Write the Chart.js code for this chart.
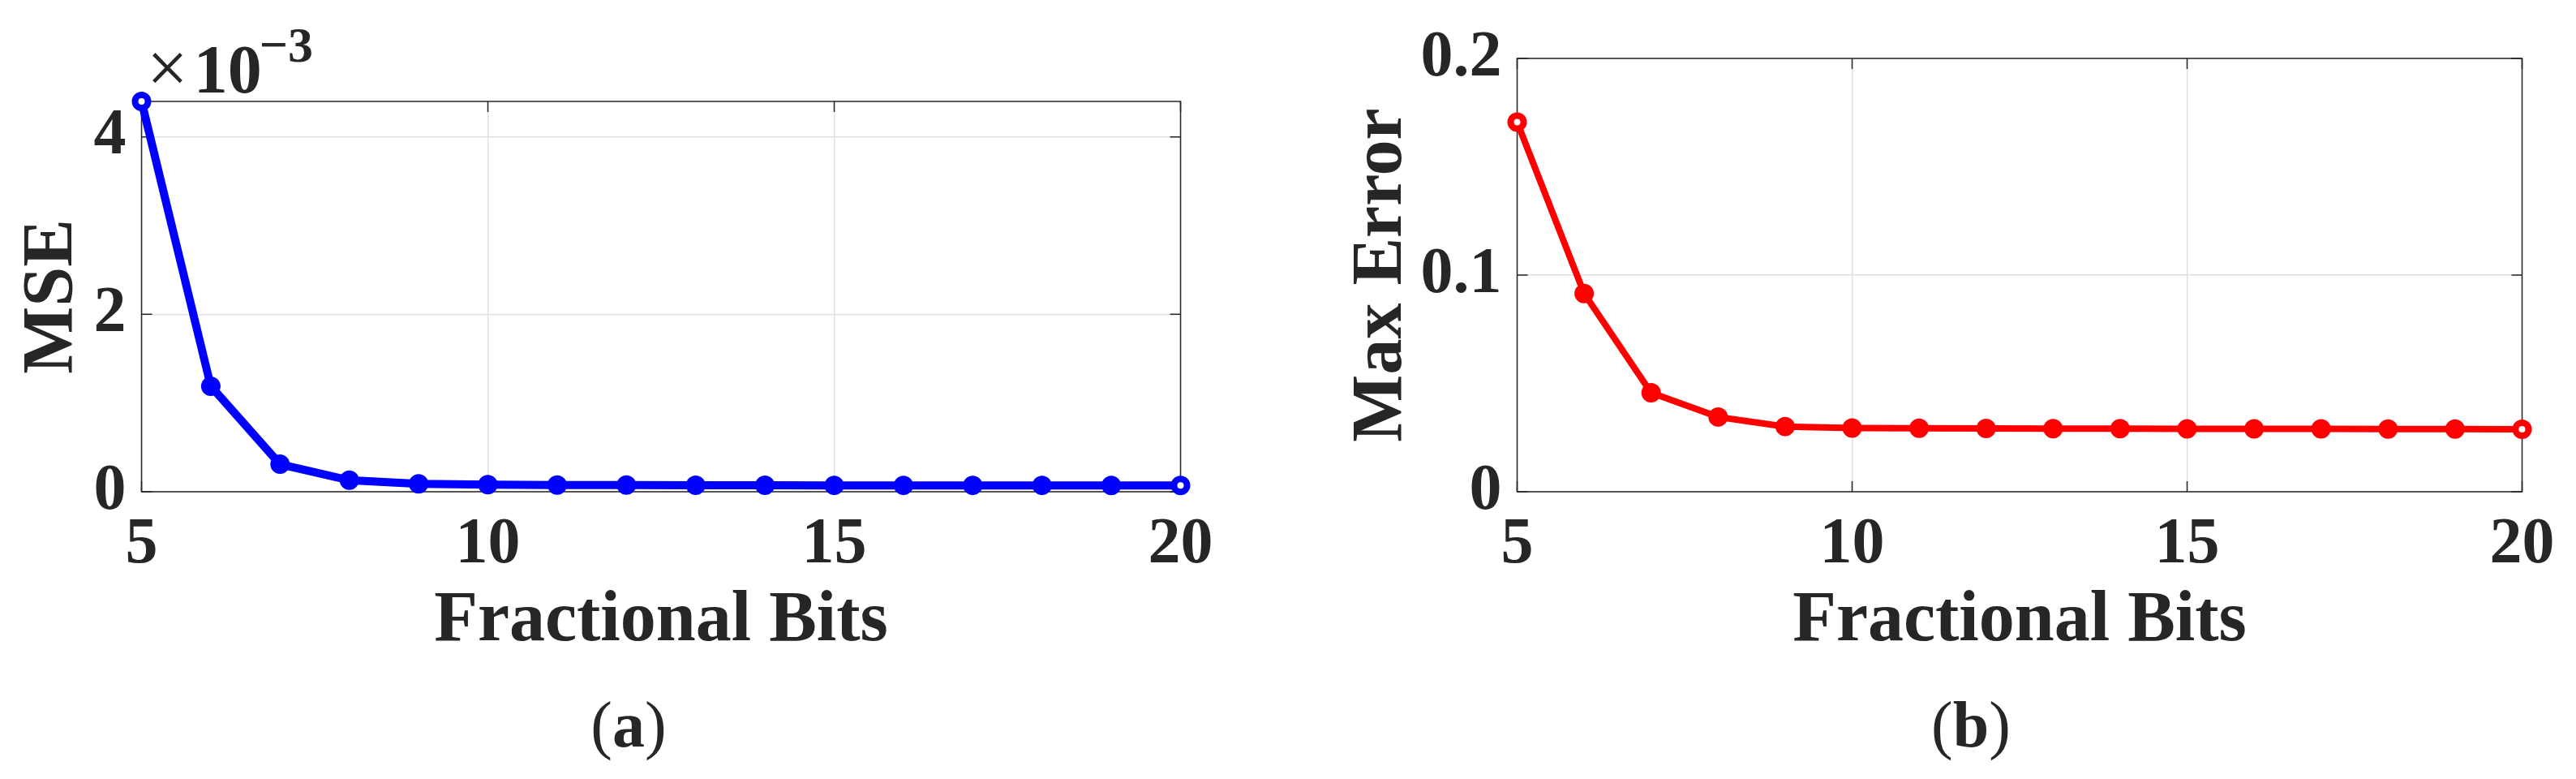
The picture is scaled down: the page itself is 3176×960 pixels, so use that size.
<!DOCTYPE html>
<html>
<head>
<meta charset="utf-8">
<script src="https://cdn.jsdelivr.net/npm/chart.js@4"></script>
<style>
  body { margin: 0; background: #fff; }
  #page { position: relative; width: 3176px; height: 960px; overflow: hidden; background: #fff; }
  .panel { position: absolute; top: 0; width: 1588px; height: 960px; }
  .txt { position: absolute; font-family: 'Liberation Serif', 'Times New Roman', serif; color: #262626; line-height: 1; white-space: nowrap; }
  .cap { font-size: 80px; transform: translateX(-50%); top: 853px; }
  .cap b { font-weight: bold; }
</style>
</head>
<body>
<div id="page">
  <div class="panel" style="left:0"><canvas id="mseChart" width="1588" height="960"></canvas></div>
  <div class="panel" style="left:1588px"><canvas id="errChart" width="1588" height="960"></canvas></div>

  <div class="txt" style="left:181px; top:39px; font-size:84px; font-weight:bold;"><span style="font-weight:normal; font-size:90px;">×</span><span style="margin-left:7px">10</span><span style="position:relative; top:-38px; font-size:62px; margin-left:-3px;">−3</span></div>

  <div class="txt cap" style="left:775px">(<b>a</b>)</div>
  <div class="txt cap" style="left:2430px">(<b>b</b>)</div>
</div>

<script>
const bits = [5, 6, 7, 8, 9, 10, 11, 12, 13, 14, 15, 16, 17, 18, 19, 20];
const mseVals = [4.40e-3, 1.19e-3, 0.31e-3, 0.13e-3, 0.09e-3, 0.08e-3, 0.075e-3, 0.075e-3,
                 0.074e-3, 0.073e-3, 0.072e-3, 0.072e-3, 0.072e-3, 0.072e-3, 0.071e-3, 0.070e-3];
const maxErrVals = [0.1706, 0.0915, 0.0457, 0.0345, 0.0301, 0.0294, 0.0293, 0.0292,
                    0.0291, 0.0291, 0.0290, 0.0290, 0.0290, 0.0289, 0.0289, 0.0288];
const xTicks = [5, 10, 15, 20];
const mseTicks = [0, 0.002, 0.004];
const maxErrTicks = [0, 0.1, 0.2];

const FONT = "'Liberation Serif', 'Times New Roman', serif";
const INK = '#262626';
const TICK = 13;

// matlab style box with inward ticks on all four sides
const boxPlugin = {
  id: 'box',
  beforeDatasetsDraw(chart) {
    const {ctx, chartArea: a, scales} = chart;
    const x = scales.x, y = scales.y;
    ctx.save();
    ctx.strokeStyle = INK;
    ctx.lineWidth = 1.5;
    ctx.strokeRect(a.left, a.top, a.right - a.left, a.bottom - a.top);
    ctx.beginPath();
    x.ticks.forEach(t => {
      let px = x.getPixelForValue(t.value);
      ctx.moveTo(px, a.bottom); ctx.lineTo(px, a.bottom - TICK);
      ctx.moveTo(px, a.top); ctx.lineTo(px, a.top + TICK);
    });
    y.ticks.forEach(t => {
      let py = y.getPixelForValue(t.value);
      ctx.moveTo(a.left, py); ctx.lineTo(a.left + TICK, py);
      ctx.moveTo(a.right, py); ctx.lineTo(a.right - TICK, py);
    });
    ctx.stroke();
    ctx.restore();
  }
};

function makeChart(id, values, color, lineW, yMax, yTicks, yLabel, yFmt, area) {
  let n = values.length;
  let fills = values.map((v, i) => (i === 0 || i === n - 1) ? '#ffffff' : color);
  const data = {
    datasets: [{
      data: bits.map((b, i) => ({x: b, y: values[i]})),
      borderColor: color,
      borderWidth: lineW,
      pointRadius: 8,
      pointBorderWidth: 8,
      pointBackgroundColor: fills,
      pointBorderColor: color,
      tension: 0,
      clip: false
    }]
  };

  const config = {
    type: 'line',
    data: data,
    options: {
      responsive: false,
      animation: false,
      layout: { padding: { left: 0, top: area.top, right: area.right, bottom: 0 } },
      plugins: { legend: { display: false }, tooltip: { enabled: false } },
      scales: {
        x: {
          type: 'linear',
          min: 5,
          max: 20,
          afterBuildTicks: s => { s.ticks = xTicks.map(v => ({value: v})); },
          afterFit: s => { s.height = 354; },
          grid: { color: '#e0e0e0', lineWidth: 1.5, drawTicks: false },
          border: { display: false },
          ticks: {
            color: INK,
            padding: 26,
            maxRotation: 0,
            font: { family: FONT, size: 80, weight: 'bold', lineHeight: 1 }
          },
          title: {
            display: true,
            text: 'Fractional Bits',
            color: INK,
            padding: { bottom: 150 },
            font: { family: FONT, size: 88, weight: 'bold', lineHeight: 1 }
          }
        },
        y: {
          min: 0,
          max: yMax,
          afterBuildTicks: s => { s.ticks = yTicks.map(v => ({value: v})); },
          afterFit: s => { s.width = area.left; },
          grid: { color: '#e0e0e0', lineWidth: 1.5, drawTicks: false },
          border: { display: false },
          ticks: {
            color: INK,
            padding: 19,
            callback: yFmt,
            font: { family: FONT, size: 80, weight: 'bold', lineHeight: 1 }
          },
          title: {
            display: true,
            text: yLabel,
            color: INK,
            padding: { top: area.titleX - 44 },
            font: { family: FONT, size: 88, weight: 'bold', lineHeight: 1 }
          }
        }
      }
    },
    plugins: [boxPlugin]
  };

  const ctx = document.getElementById(id).getContext('2d');
  return new Chart(ctx, config);
}

makeChart('mseChart', mseVals, '#0000ff', 10, 0.0044, mseTicks, 'MSE',
  v => String(Math.round(v * 1000)),
  { left: 174.5, top: 125, right: 132.5, titleX: 65.5 });

makeChart('errChart', maxErrVals, '#ff0000', 8, 0.2, maxErrTicks, 'Max Error',
  v => String(v),
  { left: 282.5, top: 72, right: 66.5, titleX: 116 });
</script>
</body>
</html>
